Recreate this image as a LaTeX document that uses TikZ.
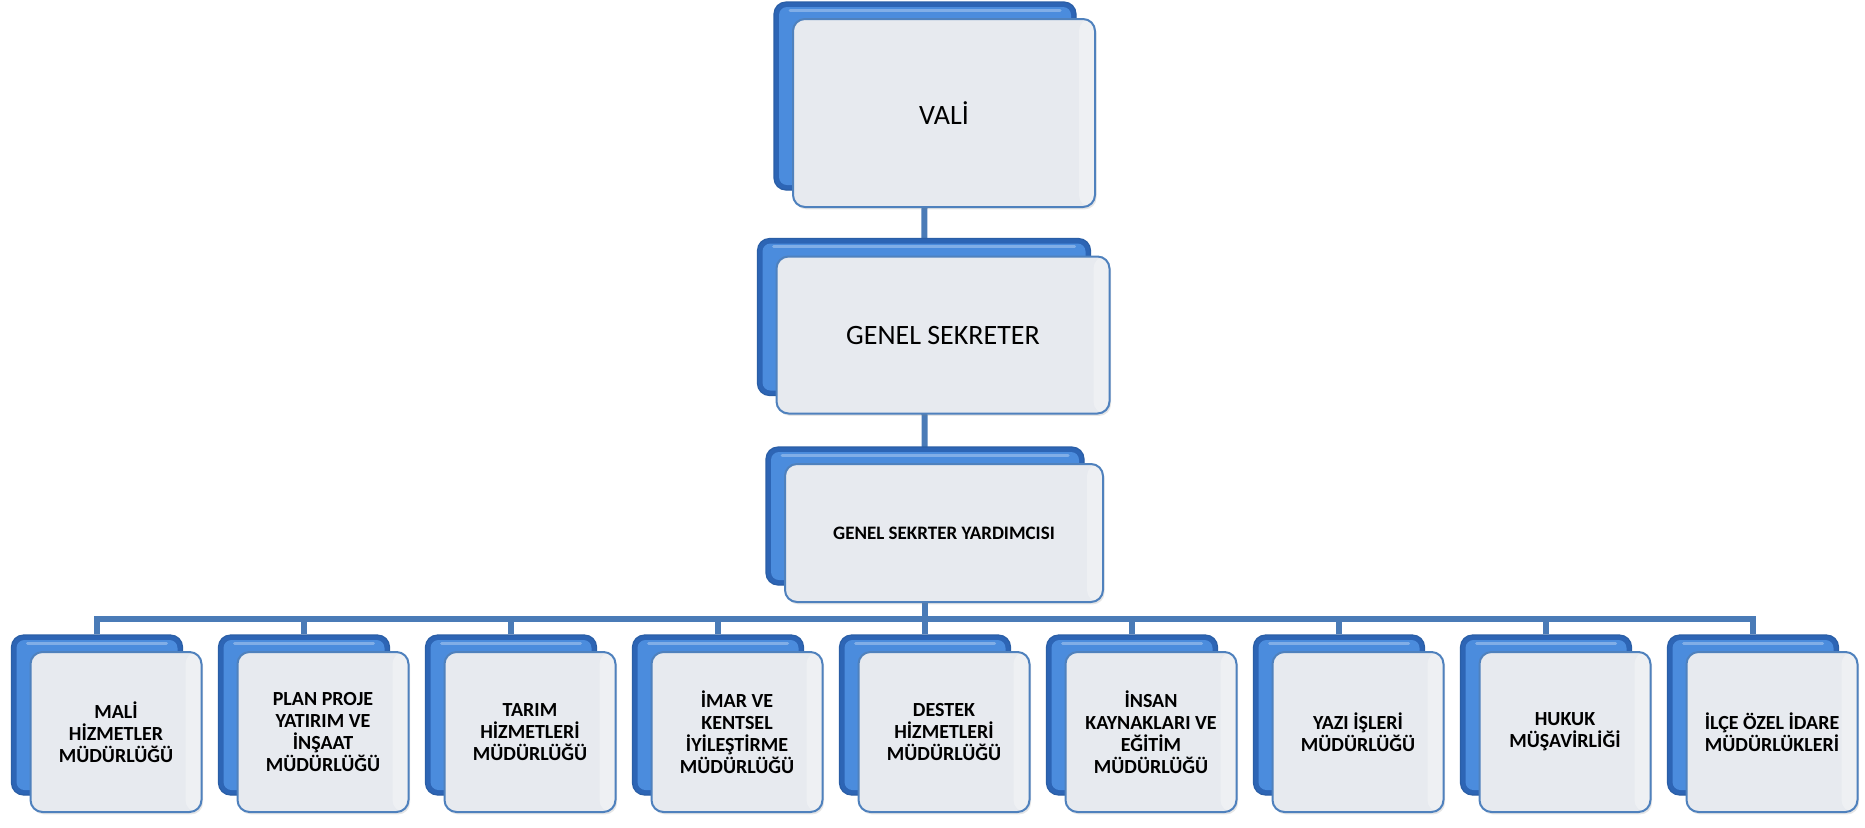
\documentclass[tikz,border=0pt]{standalone}
\usepackage{fontspec}
\setmainfont{Carlito}
\usetikzlibrary{backgrounds,shadows}

\definecolor{backhi}{HTML}{4B8CDD}
\definecolor{backlo}{HTML}{2D65B5}
\definecolor{backline}{HTML}{2A5EA6}
\definecolor{frontfill}{HTML}{E7EAEF}
\definecolor{frontline}{HTML}{4F81BD}
\definecolor{linkblue}{HTML}{4A7BB7}

\tikzset{
  backbox/.style={rectangle, rounded corners=6pt, draw=backline, line width=0.6pt,
    fill=backlo, inner sep=0pt,
    path picture={\fill [backhi, rounded corners=4pt]
      ([shift={(2.5pt,-2.5pt)}]path picture bounding box.north west) rectangle
      ([shift={(-2.5pt,2.5pt)}]path picture bounding box.south east);
      \draw [white, opacity=0.3, line width=1.5pt, line cap=round]
      ([shift={(8pt,-4pt)}]path picture bounding box.north west) --
      ([shift={(-8pt,-4pt)}]path picture bounding box.north east);}},
  frontbox/.style={rectangle, rounded corners=6pt, draw=frontline, line width=1pt,
    fill=frontfill, inner sep=2pt, align=center,
    drop shadow={opacity=0.2, shadow xshift=0.8pt, shadow yshift=-1.2pt},
    path picture={\fill [white, opacity=0.3]
      ([xshift=-8pt]path picture bounding box.north east) rectangle
      (path picture bounding box.south east);}},
  valisize/.style={minimum width=151pt, minimum height=94pt},
  gssize/.style={minimum width=166.5pt, minimum height=78.5pt},
  gsysize/.style={minimum width=159pt, minimum height=69pt},
  unitsize/.style={minimum width=85.5pt, minimum height=80pt},
  bigtext/.style={font=\fontsize{14}{17}\selectfont},
  smalltext/.style={font=\fontsize{10}{11}\selectfont\bfseries},
  link/.style={draw=linkblue, line width=3pt}
}

\begin{document}
\begin{tikzpicture}[x=0.5pt,y=-0.5pt]
\useasboundingbox (0,0) rectangle (1865,827);

% top levels
\node [backbox, valisize] (valiB) at (925,96) {};
\node [frontbox, valisize, bigtext] (vali) at (944,113) {VALİ};
\node [backbox, gssize] (gsB) at (924,317) {};
\node [frontbox, gssize, bigtext] (gs) at (943,335) {GENEL SEKRETER};
\node [backbox, gsysize] (gsyB) at (925,516) {};
\node [frontbox, gsysize, font=\fontsize{9.5}{11}\selectfont\bfseries] (gsy) at (944,533) {GENEL SEKRTER YARDIMCISI};

% units
\node [backbox, unitsize] (m1B) at (97,715) {};
\node [frontbox, unitsize, smalltext] (m1) at (116,732) {MALİ\\HİZMETLER\\MÜDÜRLÜĞÜ};
\node [backbox, unitsize] (m2B) at (304,715) {};
\node [frontbox, unitsize, smalltext] (m2) at (323,732) {PLAN PROJE\\YATIRIM VE\\İNŞAAT\\MÜDÜRLÜĞÜ};
\node [backbox, unitsize] (m3B) at (511,715) {};
\node [frontbox, unitsize, smalltext] (m3) at (530,732) {TARIM\\HİZMETLERİ\\MÜDÜRLÜĞÜ};
\node [backbox, unitsize] (m4B) at (718,715) {};
\node [frontbox, unitsize, smalltext] (m4) at (737,732) {İMAR VE\\KENTSEL\\İYİLEŞTİRME\\MÜDÜRLÜĞÜ};
\node [backbox, unitsize] (m5B) at (925,715) {};
\node [frontbox, unitsize, smalltext] (m5) at (944,732) {DESTEK\\HİZMETLERİ\\MÜDÜRLÜĞÜ};
\node [backbox, unitsize] (m6B) at (1132,715) {};
\node [frontbox, unitsize, smalltext] (m6) at (1151,732) {İNSAN\\KAYNAKLARI VE\\EĞİTİM\\MÜDÜRLÜĞÜ};
\node [backbox, unitsize] (m7B) at (1339,715) {};
\node [frontbox, unitsize, smalltext] (m7) at (1358,732) {YAZI İŞLERİ\\MÜDÜRLÜĞÜ};
\node [backbox, unitsize] (m8B) at (1546,715) {};
\node [frontbox, unitsize, smalltext] (m8) at (1565,732) {HUKUK\\MÜŞAVİRLİĞİ};
\node [backbox, unitsize] (m9B) at (1753,715) {};
\node [frontbox, unitsize, smalltext] (m9) at (1772,732) {İLÇE ÖZEL İDARE\\MÜDÜRLÜKLERİ};

\coordinate (bus) at (925,619);

% connectors behind the boxes
\begin{scope}[on background layer]
\draw [link] (valiB.center) -- (gsB.center);
\draw [link] (gsB.center) -- (gsyB.center);
\draw [link] (gsyB.center) -- (bus);
\draw [link] (m1B.north) |- (bus) -| (m9B.north);
\foreach \i in {2,...,8}
  \draw [link] (m\i B.north) -- (m\i B.north |- bus);
\end{scope}
\end{tikzpicture}
\end{document}
